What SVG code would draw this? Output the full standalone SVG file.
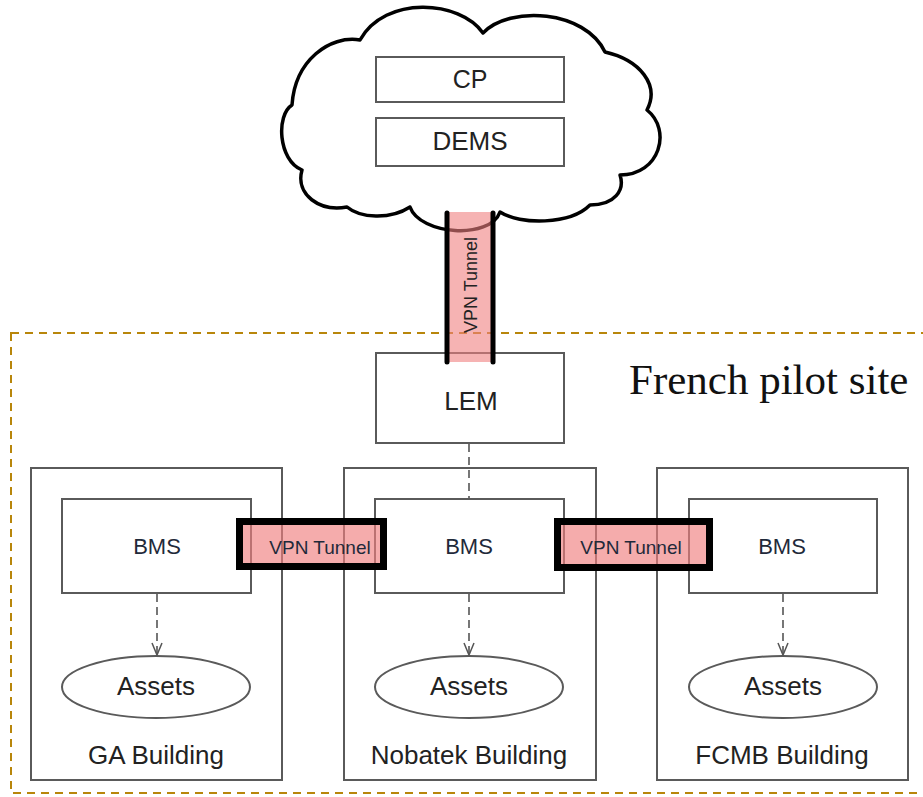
<svg xmlns="http://www.w3.org/2000/svg" width="923" height="797" viewBox="0 0 923 797">
<defs>
<style>
.box{fill:#fff;stroke:#5a5a5a;stroke-width:2}
.t{font-family:"Liberation Sans",Arial,sans-serif;fill:#222;text-anchor:middle}
.tc{font-family:"Liberation Sans",Arial,sans-serif;fill:#1f2a3a;text-anchor:middle}
.dash{stroke:#555;stroke-width:1.6;fill:none;stroke-dasharray:8 5}
.tun{fill:#f08080;fill-opacity:0.65;stroke:#000;stroke-width:7}
</style>
<marker id="arr" markerWidth="16" markerHeight="12" refX="13" refY="6" orient="auto" markerUnits="userSpaceOnUse">
<path d="M1,1 L13,6 L1,11" fill="none" stroke="#555" stroke-width="1.5"/>
</marker>
</defs>
<rect width="923" height="797" fill="#fff"/>

<g id="cloud">
<path d="M347,207 C320,212 295,195 302,170 C278,160 276,115 292,105 C295,60 330,35 360,40 C385,-5 460,0 483,33 C510,5 585,10 605,52 C640,60 660,85 647,110 C672,130 660,175 620,175 C625,190 615,205 590,205 C570,225 520,225 500,212 C490,240 420,235 410,207 C390,220 360,218 347,207 Z" fill="#fff" stroke="#000" stroke-width="3.5" stroke-linejoin="round"/>
<g id="cp"><rect class="box" x="376" y="57" width="188" height="45"/><text class="t" x="470" y="88" font-size="25">CP</text></g>
<g id="dems"><rect class="box" x="376" y="118" width="188" height="48"/><text class="t" x="470" y="150" font-size="26">DEMS</text></g>
</g>

<g id="site-border">
<rect x="11" y="333" width="930" height="460" fill="none" stroke="#b8860b" stroke-width="2" stroke-dasharray="8 6"/>
<text x="629" y="394" font-family="'Liberation Serif','DejaVu Serif',serif" font-size="43" fill="#111">French pilot site</text>
</g>

<g id="lem"><rect class="box" x="376" y="353" width="188" height="90"/><text class="t" x="471" y="410" font-size="26">LEM</text></g>

<g id="vpn-cloud-lem">
<rect x="449" y="212" width="42" height="150" fill="#f08080" fill-opacity="0.6"/>
<line x1="447" y1="213" x2="447" y2="362" stroke="#000" stroke-width="5" stroke-linecap="round"/>
<line x1="493" y1="213" x2="493" y2="362" stroke="#000" stroke-width="5" stroke-linecap="round"/>
<text class="t" transform="translate(477,285) rotate(-90)" font-size="18">VPN Tunnel</text>
</g>

<g id="ga-building">
<rect class="box" x="31" y="468" width="251" height="312"/>
<text class="t" x="156" y="764" font-size="26">GA Building</text>
</g>
<g id="nobatek-building">
<rect class="box" x="344" y="468" width="252" height="312"/>
<text class="t" x="469" y="764" font-size="26">Nobatek Building</text>
</g>
<g id="fcmb-building">
<rect class="box" x="657" y="468" width="251" height="312"/>
<text class="t" x="782" y="764" font-size="26">FCMB Building</text>
</g>

<g id="ga-bms"><rect class="box" x="62" y="499" width="189" height="94"/><text class="tc" x="157" y="554" font-size="22">BMS</text></g>
<g id="nobatek-bms"><rect class="box" x="375" y="499" width="189" height="94"/><text class="tc" x="469" y="554" font-size="22">BMS</text></g>
<g id="fcmb-bms"><rect class="box" x="689" y="499" width="188" height="94"/><text class="tc" x="782" y="554" font-size="22">BMS</text></g>

<g id="ga-assets"><ellipse class="box" cx="156" cy="687" rx="94" ry="31"/><text class="t" x="156" y="695" font-size="26">Assets</text></g>
<g id="nobatek-assets"><ellipse class="box" cx="469" cy="687" rx="94" ry="31"/><text class="t" x="469" y="695" font-size="26">Assets</text></g>
<g id="fcmb-assets"><ellipse class="box" cx="783" cy="687" rx="94" ry="31"/><text class="t" x="783" y="695" font-size="26">Assets</text></g>

<g id="vpn-ga-nobatek">
<rect class="tun" x="239.5" y="521.5" width="144" height="45"/>
<text class="tc" x="320" y="554" font-size="19">VPN Tunnel</text>
</g>
<g id="vpn-nobatek-fcmb">
<rect class="tun" x="557.5" y="521.5" width="152" height="46"/>
<text class="tc" x="631" y="554" font-size="19">VPN Tunnel</text>
</g>

<g id="connectors">
<line class="dash" x1="469" y1="444" x2="469" y2="498"/>
<line class="dash" x1="157" y1="594" x2="157" y2="655" marker-end="url(#arr)"/>
<line class="dash" x1="469" y1="594" x2="469" y2="655" marker-end="url(#arr)"/>
<line class="dash" x1="783" y1="594" x2="783" y2="655" marker-end="url(#arr)"/>
</g>
</svg>
